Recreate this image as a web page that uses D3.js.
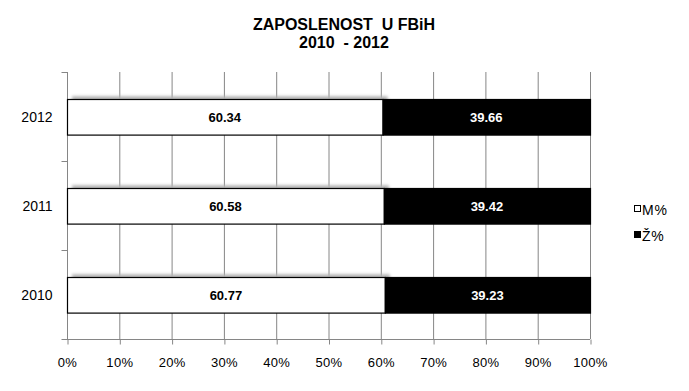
<!DOCTYPE html>
<html><head><meta charset="utf-8">
<script src="https://cdn.jsdelivr.net/npm/d3@7"></script>
<style>body{margin:0;background:#fff}svg{display:block;font-family:Arial,"Liberation Sans",sans-serif}</style>
</head><body>
<svg id="c" width="689" height="391"></svg>
<script>
const categories = ["2012", "2011", "2010"];
const seriesNames = ["M%", "Ž%"];
const mValues = [60.34, 60.58, 60.77];
const zValues = [39.66, 39.42, 39.23];
const tickValues = [0,10,20,30,40,50,60,70,80,90,100];
const titleLines = ["ZAPOSLENOST  U FBiH", "2010  - 2012"];

(function(){
const svg = d3.select("#c");
const pl = 67, pr = 590, pt = 72, pb = 339;
const x = d3.scaleLinear().domain([0,100]).range([pl,pr]);
const y = d3.scaleBand().domain(categories).range([pt,pb]).padding(0);
const grey = "#868686";

const defs = svg.append("defs");
const f = defs.append("filter").attr("id","sh").attr("x","-10%").attr("y","-50%").attr("width","120%").attr("height","200%");
f.append("feGaussianBlur").attr("stdDeviation",1.6);

// gridlines
svg.append("g").selectAll("line").data(tickValues.slice(1)).join("line")
  .attr("x1",d=>x(d)+0.5).attr("x2",d=>x(d)+0.5).attr("y1",pt).attr("y2",pb)
  .attr("stroke",grey).attr("stroke-width",1);

// axes
const xAxis = svg.append("g").attr("transform",`translate(0,${pb+0.5})`)
  .call(d3.axisBottom(x).tickValues(tickValues).tickFormat(d=>d+"%").tickSize(5).tickPadding(13));
xAxis.select(".domain").attr("stroke",grey).attr("d",`M${pl},0H${pr}`);
xAxis.selectAll(".tick line").attr("stroke",grey).attr("transform","translate(0.5,0)");
xAxis.selectAll("text").attr("font-size",13).attr("letter-spacing",0.3).attr("fill","#000").attr("font-family",'Arial,"Liberation Sans",sans-serif');

const yAxis = svg.append("g").attr("transform",`translate(${pl+0.5},0)`);
yAxis.append("line").attr("x1",0).attr("x2",0).attr("y1",pt).attr("y2",pb).attr("stroke",grey);
const bounds = categories.map(c=>y(c)).concat([pb]);
yAxis.selectAll("line.t").data(bounds).join("line").attr("class","t")
  .attr("x1",-6).attr("x2",0).attr("y1",d=>d+0.5).attr("y2",d=>d+0.5).attr("stroke",grey);
yAxis.selectAll("text").data(categories).join("text")
  .attr("x",-15).attr("y",d=>y(d)+y.bandwidth()/2+5).attr("text-anchor","end")
  .attr("font-size",14).text(d=>d);

const bh = y.bandwidth()*0.4;
const rows = categories.map((c,i)=>({c, m:mValues[i], z:zValues[i]}));
// shadows
svg.append("g").selectAll("rect").data(rows).join("rect")
  .attr("x",d=>x(0)+5).attr("y",d=>y(d.c)+y.bandwidth()/2-bh/2-2.5)
  .attr("width",d=>x(d.m)-x(0)).attr("height",8)
  .attr("fill","#b4b4b4").attr("filter","url(#sh)");

const g = svg.append("g");
g.selectAll("rect.m").data(rows).join("rect").attr("class","m")
  .attr("x",x(0)+0.5).attr("y",d=>Math.round(y(d.c)+y.bandwidth()/2-bh/2)+0.5)
  .attr("width",d=>x(d.m)-x(0)).attr("height",bh)
  .attr("fill","#fff").attr("stroke","#000").attr("stroke-width",1.2);
g.selectAll("rect.z").data(rows).join("rect").attr("class","z")
  .attr("x",d=>x(d.m)+0.5).attr("y",d=>Math.round(y(d.c)+y.bandwidth()/2-bh/2)+0.5)
  .attr("width",d=>x(d.m+d.z)-x(d.m)).attr("height",bh)
  .attr("fill","#000").attr("stroke","#000").attr("stroke-width",1.2);

g.selectAll("text.m").data(rows).join("text").attr("class","m")
  .attr("x",d=>x(d.m/2)).attr("y",d=>y(d.c)+y.bandwidth()/2+5)
  .attr("text-anchor","middle").attr("font-size",13).attr("font-weight","bold").attr("fill","#000")
  .text(d=>d.m.toFixed(2));
g.selectAll("text.z").data(rows).join("text").attr("class","z")
  .attr("x",d=>x(d.m+d.z/2)).attr("y",d=>y(d.c)+y.bandwidth()/2+5)
  .attr("text-anchor","middle").attr("font-size",13).attr("font-weight","bold").attr("fill","#fff")
  .text(d=>d.z.toFixed(2));

// title
svg.append("g").selectAll("text").data(titleLines).join("text")
  .attr("x",344).attr("y",(d,i)=>30+i*18).attr("text-anchor","middle")
  .attr("font-size",16).attr("font-weight","bold")
  .style("white-space","pre").text(d=>d);

// legend
const leg = svg.append("g").attr("transform","translate(634,0)");
const legY = [215, 241];
leg.selectAll("rect").data(seriesNames).join("rect")
  .attr("x",0.5).attr("y",(d,i)=>legY[i]-9.5).attr("width",6).attr("height",6)
  .attr("fill",(d,i)=>i===0?"#fff":"#000").attr("stroke","#000");
leg.selectAll("text").data(seriesNames).join("text")
  .attr("x",8).attr("y",(d,i)=>legY[i]).attr("font-size",14).attr("letter-spacing",0.8).text(d=>d);
})();
</script>
</body></html>
